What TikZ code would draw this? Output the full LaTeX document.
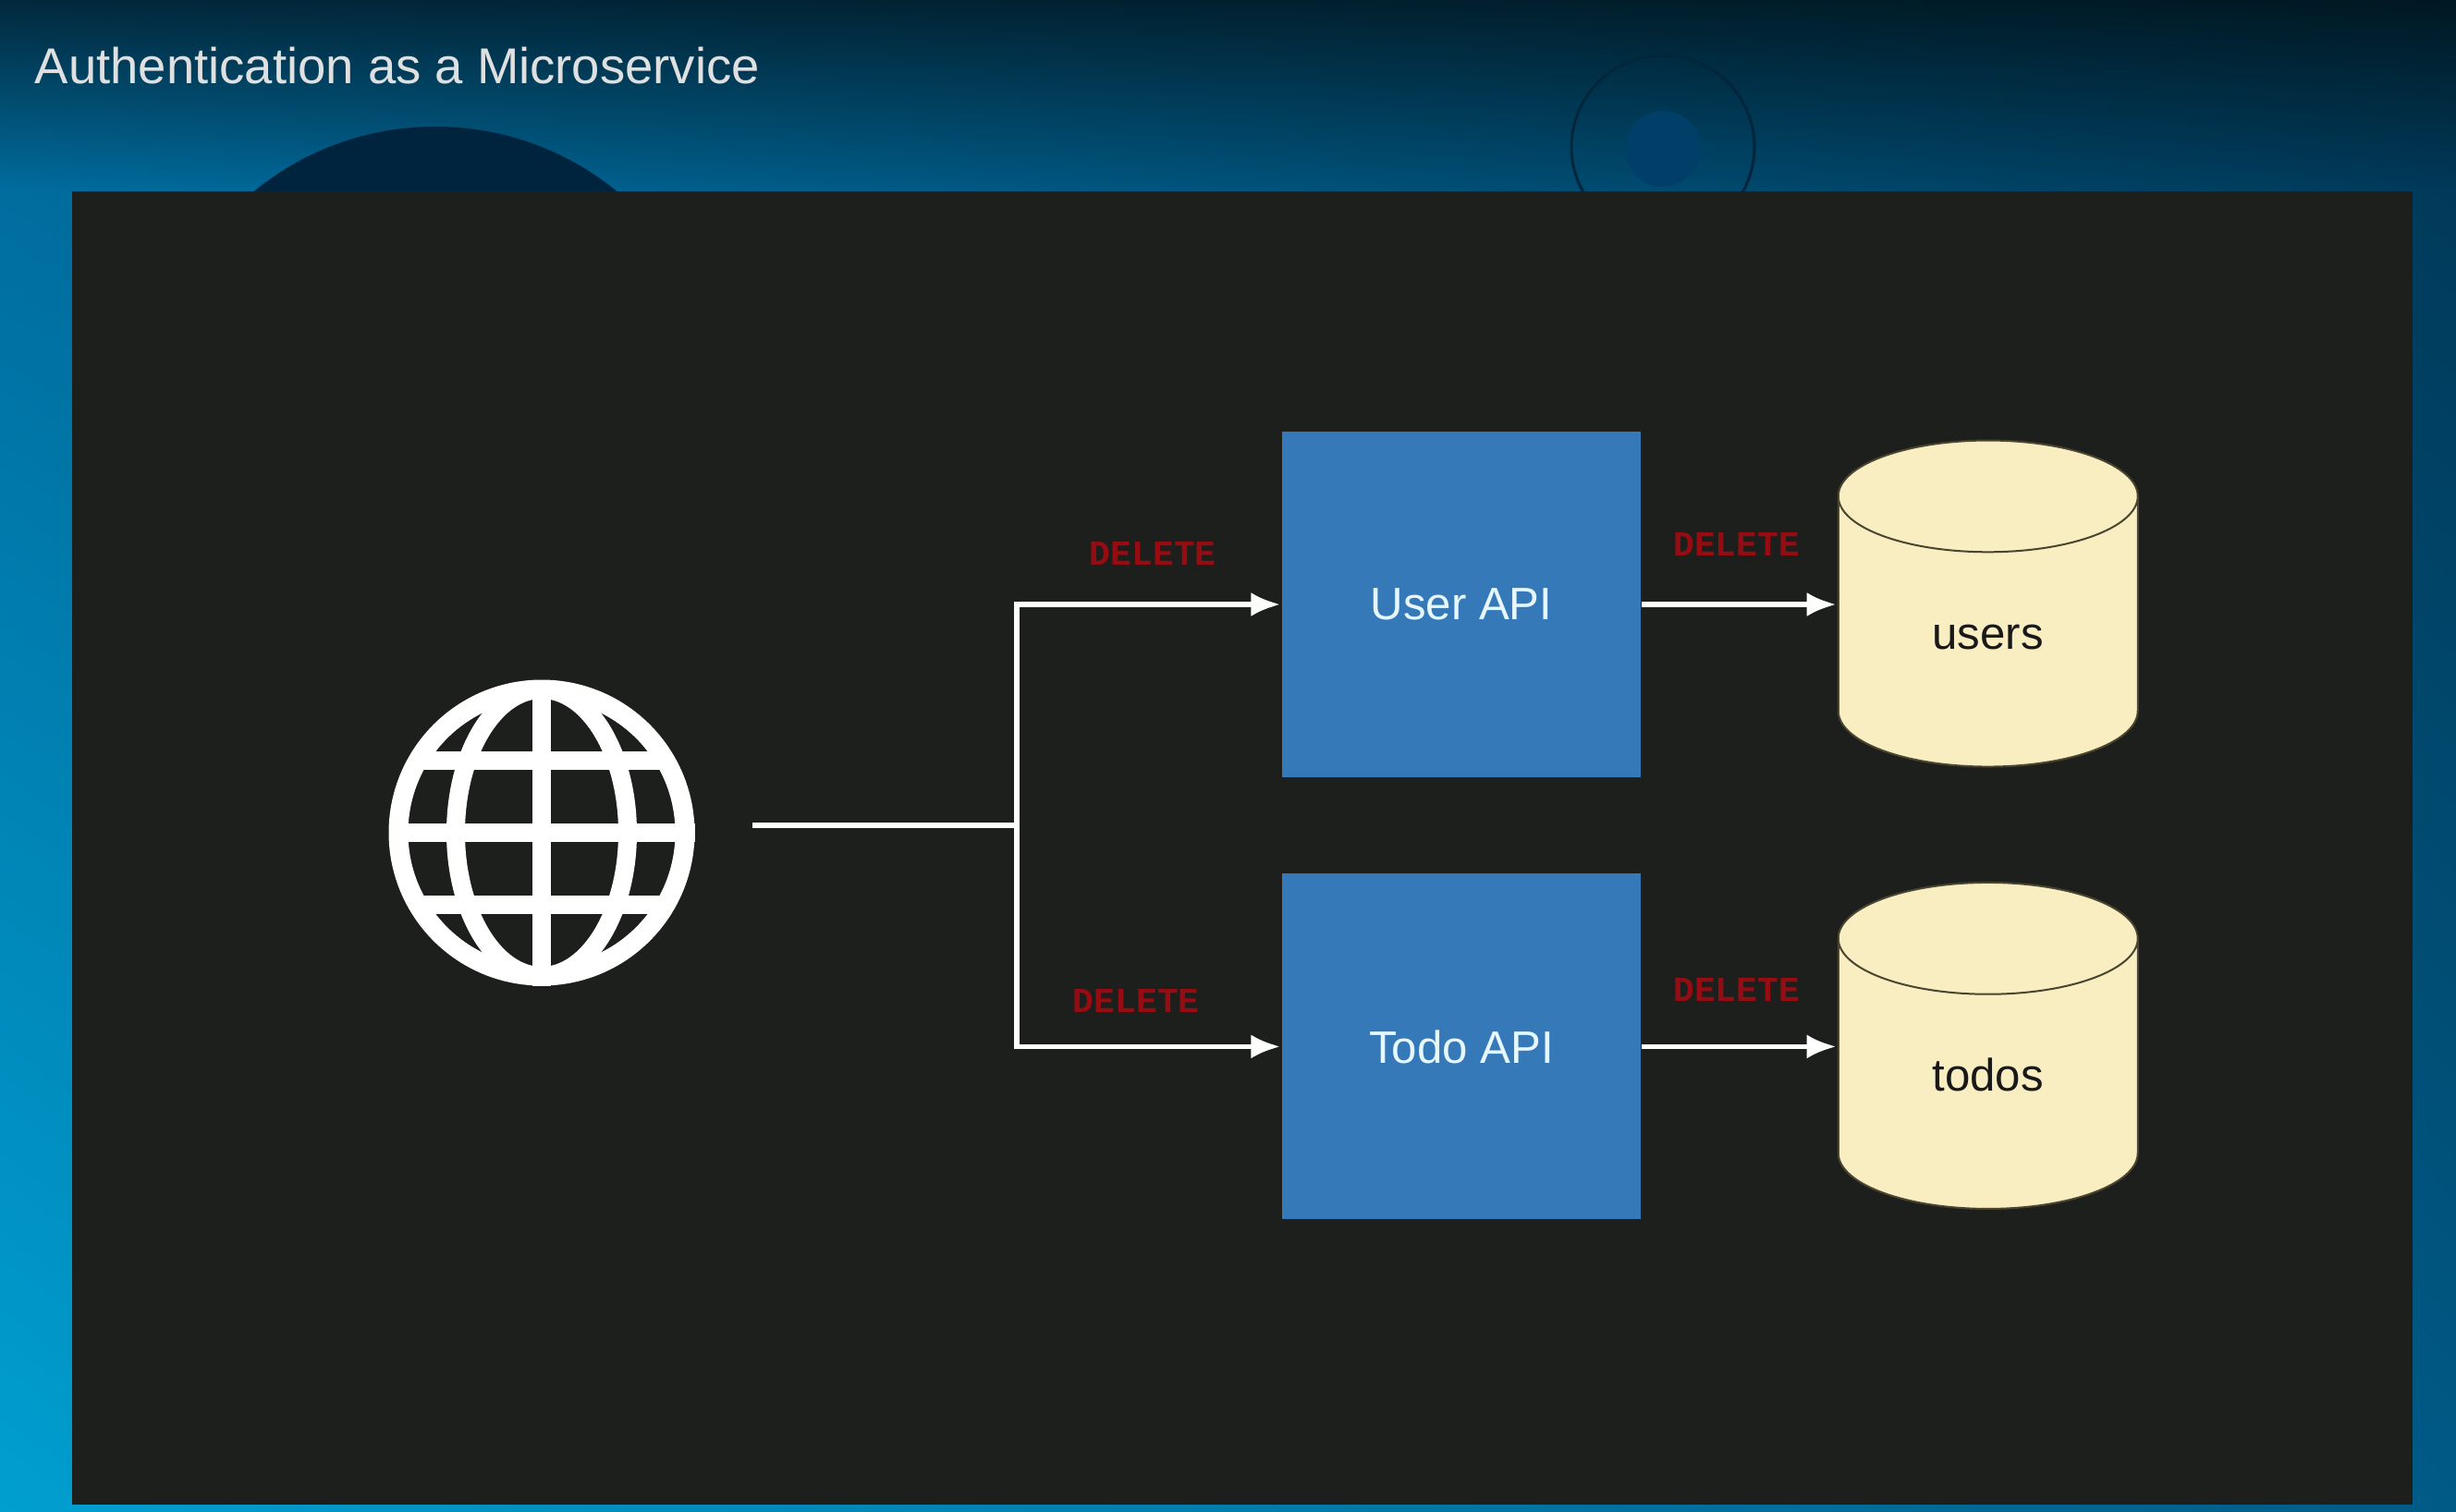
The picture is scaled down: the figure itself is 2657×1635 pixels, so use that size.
\documentclass[tikz,border=0pt]{standalone}
\usepackage{fontspec}
\setmainfont{Liberation Sans}
\setmonofont{Liberation Mono}
\usetikzlibrary{shapes.geometric,positioning,arrows.meta,shadings}
\definecolor{paneldark}{HTML}{1D1F1C}
\definecolor{apiblue}{HTML}{3579B9}
\definecolor{dbcream}{HTML}{F9EDC2}
\definecolor{dbedge}{HTML}{4A4530}
\definecolor{verbred}{HTML}{960C13}
\definecolor{skytl}{HTML}{02283C}
\definecolor{skytr}{HTML}{001822}
\definecolor{skyml}{HTML}{006D9F}
\definecolor{skymr}{HTML}{003A5A}
\definecolor{skybl}{HTML}{009FD0}
\definecolor{skybr}{HTML}{005A86}
\definecolor{discdark}{HTML}{01243E}
\definecolor{ringdark}{HTML}{01263C}
\definecolor{dotblue}{HTML}{013F68}

\begin{document}
\begin{tikzpicture}[
      x=0.1mm,y=-0.1mm,
      title/.style={anchor=base west,inner sep=0,text=white!88!black,
                    font=\fontsize{15.5}{18}\selectfont},
      api/.style={rectangle,fill=apiblue,text=white!90!cyan,
                  minimum width=38.8mm,minimum height=37.4mm,
                  font=\fontsize{14}{16}\selectfont},
      db/.style={cylinder,shape border rotate=90,shape aspect=.84,
                 draw=dbedge,line width=.2mm,fill=dbcream,text=black!90,
                 minimum width=32.4mm,minimum height=35.3mm,yshift=-4.1mm,
                 text height=3.5mm,text depth=2mm,
                 font=\fontsize{14}{16}\selectfont},
      verb/.style={inner sep=0,text=verbred,
                   font=\fontsize{10.8}{12}\ttfamily\bfseries},
      globe/.style={circle,draw=white,line width=2.1mm,minimum size=31mm,inner sep=0},
      grid/.style={draw=white,line width=2mm},
      plain/.style={draw=white,line width=.55mm},
      single/.style={draw=white,line width=.55mm,
                     -{Latex[length=3.2mm,width=2.6mm]},shorten >=.1mm},
    ]
      \useasboundingbox (0,0) rectangle (2657,1635);
      % backdrop
      \shade[upper left=skytl,upper right=skytr,lower left=skyml,lower right=skymr]
             (0,0) rectangle (2657,207);
      \shade[upper left=skyml,upper right=skymr,lower left=skybl,lower right=skybr]
             (0,207) rectangle (2657,1635);
      \fill[discdark] (471,447) circle (310);
      \draw[ringdark,line width=.3mm] (1799,159) circle (99);
      \fill[dotblue] (1799,161) circle (41);
      \fill[paneldark] (78,207) rectangle (2610,1628);
      \node[title] (heading) at (37,90) {Authentication as a Microservice};

      \node[api] (userapi) at (1581,654) {User API};
      \node[api,below=10.3mm of userapi] (todoapi) {Todo API};
      \node[db,right=21.2mm of userapi] (users) {users};
      \node[db,right=21.2mm of todoapi] (todos) {todos};

      \node[globe] (globe) at (586,901) {};
      \draw[grid] (globe.center) ellipse [x radius=93,y radius=155];
      \path[grid] (globe.north) edge (globe.south);
      \path[grid] (globe.west) edge (globe.east);
      \draw[grid] ([shift={(-134,-78)}]globe.center) -- ([shift={(134,-78)}]globe.center);
      \draw[grid] ([shift={(-134,78)}]globe.center) -- ([shift={(134,78)}]globe.center);

      \coordinate (source) at (814,893);
      \coordinate (fork) at (1100,893);
      \path(source) edge[plain] (fork);
      \draw[single] (fork) |- (userapi);
      \draw[single] (fork) |- (todoapi);
      \path(userapi) edge[single] (users.west |- userapi);
      \path(todoapi) edge[single] (todos.west |- todoapi);

      \node[verb,above left=4.2mm and 7mm of userapi.west] (deluser) {DELETE};
      \node[verb,above left=3.6mm and 8.8mm of todoapi.west] (deltodo) {DELETE};
      \node[verb,above right=5.2mm and 3.4mm of userapi.east] (delusers) {DELETE};
      \node[verb,above right=4.8mm and 3.4mm of todoapi.east] (deltodos) {DELETE};
    \end{tikzpicture}
\end{document}
